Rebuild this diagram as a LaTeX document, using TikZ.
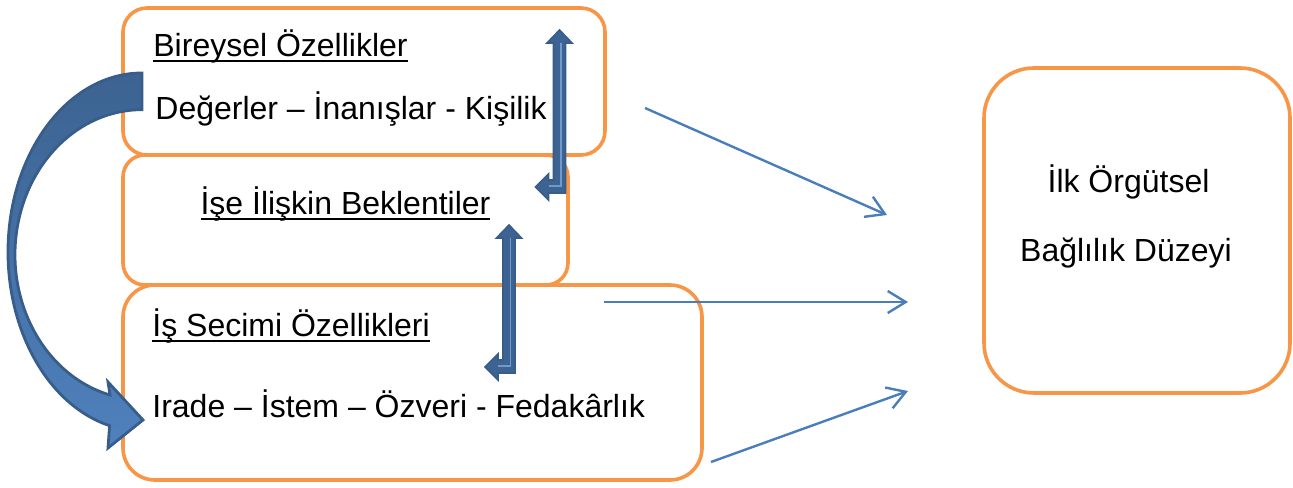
\documentclass[tikz,border=0pt]{standalone}
\usepackage{fontspec}
\setmainfont{Liberation Sans}
\usetikzlibrary{arrows.meta}

\definecolor{boxorange}{HTML}{F79646}
\definecolor{linkblue}{HTML}{4A7EBB}
\definecolor{arrowedge}{HTML}{385D8A}
\definecolor{arrowfill}{HTML}{4F81BD}
\definecolor{arrowdark}{HTML}{3C6391}
\definecolor{arrowlight}{HTML}{7099CC}

\newsavebox\ulinebox
\newcommand{\ulined}[1]{\sbox\ulinebox{#1}\rlap{\rule[-2.6pt]{\wd\ulinebox}{1pt}}\usebox\ulinebox}

\begin{document}
\begin{tikzpicture}[x=0.5pt, y=0.5pt, >={Straight Barb[length=9pt,width=11pt]},
		box/.style={draw=boxorange, line width=1.8pt, rounded corners=#1, inner sep=0pt},
		txt/.style={inner sep=0pt, font=\fontsize{16}{19}\selectfont},
		link/.style={draw=linkblue, line width=1.2pt},
		bigarrow/.style={draw=arrowedge, line width=1.4pt, top color=arrowdark, bottom color=arrowfill},
		bentarrow/.style={draw=arrowedge, line width=0.8pt, fill=arrowdark}]
		\useasboundingbox (0,0) rectangle (1293,487);
		
		% Boxes
		\node[box=12pt, minimum width=241pt, minimum height=73.5pt] (bireysel) at (364,405.5) {};
		\node[box=11pt, minimum width=222.5pt, minimum height=65pt] (beklenti) at (345.5,267) {};
		\node[box=16pt, minimum width=289.5pt, minimum height=97.5pt] (secim) at (412.5,104.5) {};
		\node[box=25pt, minimum width=153pt, minimum height=162.5pt] (baglilik) at (1137,256.5) {};
		
		% Texts
		\node[txt, anchor=base west] (bireyselbaslik) at (153,430) {\ulined{Bireysel Özellikler}};
		\node[txt, anchor=base west] (degerler) at (155,367) {Değerler – İnanışlar - Kişilik};
		\node[txt, anchor=base] (beklentibaslik) at (345.5,272) {\ulined{İşe İlişkin Beklentiler}};
		\node[txt, anchor=base west] (secimbaslik) at (152,150) {\ulined{İş Secimi Özellikleri}};
		\node[txt, anchor=base west] (irade) at (152,70) {Irade – İstem – Özveri - Fedakârlık};
		\node[txt, anchor=base] (ilk) at (1128.5,294) {İlk Örgütsel};
		\node[txt, anchor=base] (bagli) at (1126,225) {Bağlılık Düzeyi};
		
		% Curved arrow on the left
		\draw[bigarrow] (142,414) arc[start angle=90, end angle=256, x radius=134, y radius=179]
			-- (108,39) -- (143,67) -- (108,105) -- (110,92)
			arc[start angle=255.4, end angle=90, x radius=127, y radius=145] -- cycle;
		
		% Bent arrows between the boxes
		\foreach \tx/\ty/\len in {559.5/457/163, 509/262/148} {
			\begin{scope}[shift={(\tx,\ty)}]
				\draw[bentarrow] (0,0) -- (12.5,-13) -- (6,-13) -- (6,-\len) -- (-11,-\len)
					-- (-11,-\len-7) -- (-24,-\len+6) -- (-11,-\len+19) -- (-11,-\len+13)
					-- (-6,-\len+13) -- (-6,-13) -- (-12.5,-13) -- cycle;
				\draw[arrowlight, line width=0.7pt] (1.5,-13) -- (1.5,-\len+7) -- (-11,-\len+7);
			\end{scope}
		}
		
		% Links to the right box
		\coordinate (s1) at (645,379);
		\coordinate (t1) at (887,272);
		\coordinate (s2) at (604,185);
		\coordinate (t2) at (908,185);
		\coordinate (s3) at (711,25);
		\coordinate (t3) at (908,96);
		\draw[link, ->] (s1) -- (t1);
		\draw[link, ->] (s2) -- (t2);
		\draw[link, ->] (s3) -- (t3);
		
	\end{tikzpicture}
\end{document}
